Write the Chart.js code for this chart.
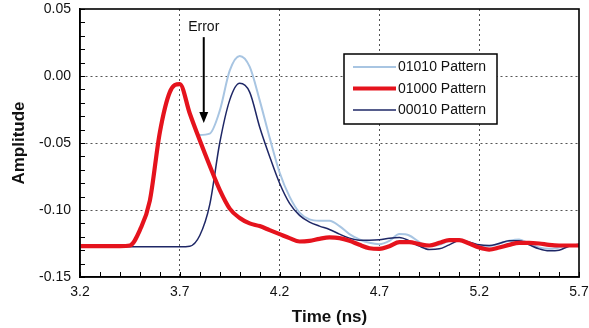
<!DOCTYPE html>
<html>
<head>
<meta charset="utf-8">
<script src="https://cdn.jsdelivr.net/npm/chart.js@4/dist/chart.umd.min.js"></script>
<style>
  html, body { margin: 0; padding: 0; background: #fff; }
  #wrap { width: 589px; height: 328px; }
</style>
</head>
<body>
<div id="wrap"><canvas id="chart"></canvas></div>
<script>
// time axis (ns), shared by all three traces
const times = [
  3.20, 3.25, 3.30, 3.35, 3.40, 3.45, 3.50, 3.55, 3.60, 3.65,
  3.70, 3.75, 3.80, 3.85, 3.90, 3.95, 4.00, 4.05, 4.10, 4.15,
  4.20, 4.25, 4.30, 4.35, 4.40, 4.45, 4.50, 4.55, 4.60, 4.65,
  4.70, 4.75, 4.80, 4.85, 4.90, 4.95, 5.00, 5.05, 5.10, 5.15,
  5.20, 5.25, 5.30, 5.35, 5.40, 5.45, 5.50, 5.55, 5.60, 5.65, 5.70
];

const pattern01010 = [
  -0.127, -0.127, -0.127, -0.127, -0.127, -0.1265, -0.115, -0.093, -0.042, -0.012,
  -0.006, -0.027, -0.044, -0.043, -0.026, 0.004, 0.015, 0.007, -0.018, -0.046,
  -0.072, -0.090, -0.102, -0.107, -0.108, -0.108, -0.112, -0.118, -0.122, -0.1245,
  -0.1255, -0.123, -0.118, -0.119, -0.124, -0.127, -0.126, -0.123, -0.122, -0.124,
  -0.1265, -0.127, -0.125, -0.123, -0.122, -0.125, -0.128, -0.129, -0.128, -0.1265, -0.126
];

const pattern01000 = [
  -0.127, -0.127, -0.127, -0.127, -0.127, -0.1265, -0.115, -0.093, -0.042, -0.012,
  -0.006, -0.028, -0.048, -0.067, -0.085, -0.099, -0.106, -0.110, -0.112, -0.115,
  -0.118, -0.121, -0.1235, -0.123, -0.1215, -0.1205, -0.121, -0.123, -0.126, -0.1285,
  -0.129, -0.127, -0.124, -0.124, -0.1255, -0.1265, -0.1245, -0.1225, -0.1225, -0.125,
  -0.128, -0.1295, -0.128, -0.126, -0.1245, -0.1245, -0.125, -0.126, -0.1265, -0.1265, -0.1265
];

const pattern00010 = [
  -0.1275, -0.1275, -0.1275, -0.1275, -0.1275, -0.1275, -0.1275, -0.1275, -0.1275, -0.1275,
  -0.1275, -0.127, -0.119, -0.096, -0.050, -0.018, -0.0055, -0.012, -0.038, -0.060,
  -0.080, -0.095, -0.104, -0.109, -0.112, -0.1145, -0.118, -0.121, -0.1225, -0.1225,
  -0.1222, -0.121, -0.1205, -0.123, -0.127, -0.1295, -0.129, -0.126, -0.123, -0.124,
  -0.126, -0.1265, -0.125, -0.123, -0.123, -0.126, -0.129, -0.1305, -0.130, -0.127, -0.1255
];

const seriesLabels = ['01010 Pattern', '01000 Pattern', '00010 Pattern'];
const xTickValues = [3.2, 3.7, 4.2, 4.7, 5.2, 5.7];
const yTickValues = [-0.15, -0.10, -0.05, 0.00, 0.05];

// "Error" callout, in data units
const errorText = 'Error';
const errorTime = 3.82;
const errorArrowTop = 0.029;
const errorArrowTip = -0.035;
const errorTextY = 0.0365;

const toPoints = (vals) => vals.map((v, i) => ({ x: times[i], y: v }));

const colors = ['#a8c5e2', '#e5131d', '#1e2766'];
const widths = [2, 4.2, 1.5];

const font = 'Liberation Sans, Arial, Helvetica, sans-serif';

// inward minor ticks + plot frame
const framePlugin = {
  id: 'frame',
  afterDraw(chart) {
    const { ctx, chartArea: a, scales: { x, y } } = chart;
    ctx.save();
    ctx.strokeStyle = '#000';
    ctx.lineWidth = 1;
    ctx.beginPath();
    for (let i = 0; i <= 25; i++) {
      const px = Math.round(x.getPixelForValue(3.2 + i * 0.1)) + 0.5;
      ctx.moveTo(px, a.bottom);
      ctx.lineTo(px, a.bottom - 5);
    }
    for (let i = 0; i <= 20; i++) {
      const py = Math.round(y.getPixelForValue(-0.15 + i * 0.01)) + 0.5;
      ctx.moveTo(a.left, py);
      ctx.lineTo(a.left + 5, py);
    }
    ctx.stroke();
    ctx.lineWidth = 1.6;
    ctx.strokeRect(a.left, a.top, a.right - a.left, a.bottom - a.top);
    ctx.restore();
  }
};

// boxed legend + Error arrow
const notesPlugin = {
  id: 'notes',
  afterDraw(chart) {
    const { ctx, scales: { x, y } } = chart;
    ctx.save();

    // legend box
    const bx = 344, by = 54, bw = 153, bh = 70;
    ctx.fillStyle = '#fff';
    ctx.fillRect(bx, by, bw, bh);
    ctx.strokeStyle = '#000';
    ctx.lineWidth = 1.5;
    ctx.strokeRect(bx, by, bw, bh);
    ctx.font = '14px ' + font;
    ctx.textBaseline = 'middle';
    ctx.textAlign = 'left';
    seriesLabels.forEach((lab, i) => {
      const ry = by + 13 + i * 21.5;
      ctx.strokeStyle = colors[i];
      ctx.lineWidth = widths[i];
      ctx.beginPath();
      ctx.moveTo(bx + 9, ry);
      ctx.lineTo(bx + 52, ry);
      ctx.stroke();
      ctx.fillStyle = '#111';
      ctx.fillText(lab, bx + 54, ry + 0.5);
    });

    // Error arrow
    const ax = x.getPixelForValue(errorTime);
    const top = y.getPixelForValue(errorArrowTop);
    const tip = y.getPixelForValue(errorArrowTip);
    ctx.strokeStyle = '#000';
    ctx.fillStyle = '#000';
    ctx.lineWidth = 2;
    ctx.beginPath();
    ctx.moveTo(ax, top);
    ctx.lineTo(ax, tip - 8);
    ctx.stroke();
    ctx.beginPath();
    ctx.moveTo(ax - 4.5, tip - 11);
    ctx.lineTo(ax + 4.5, tip - 11);
    ctx.lineTo(ax, tip);
    ctx.closePath();
    ctx.fill();
    ctx.font = '14px ' + font;
    ctx.textAlign = 'center';
    ctx.fillStyle = '#111';
    ctx.fillText(errorText, ax, y.getPixelForValue(errorTextY));
    ctx.restore();
  }
};

const edgeGrid = (c) => (c.index === 0 || c.index === c.scale.ticks.length - 1) ? 'rgba(0,0,0,0)' : '#555';

new Chart(document.getElementById('chart'), {
  type: 'line',
  data: {
    datasets: [
      { label: seriesLabels[0], data: toPoints(pattern01010), borderColor: colors[0], borderWidth: widths[0], order: 2 },
      { label: seriesLabels[1], data: toPoints(pattern01000), borderColor: colors[1], borderWidth: widths[1], order: 0 },
      { label: seriesLabels[2], data: toPoints(pattern00010), borderColor: colors[2], borderWidth: widths[2], order: 1 }
    ]
  },
  options: {
    responsive: true,
    maintainAspectRatio: false,
    animation: false,
    events: [],
    layout: { padding: { top: 9, right: 10, left: 0, bottom: 0 } },
    elements: {
      point: { radius: 0 },
      line: { cubicInterpolationMode: 'monotone', fill: false }
    },
    plugins: { legend: { display: false }, tooltip: { enabled: false } },
    scales: {
      x: {
        type: 'linear',
        min: 3.2,
        max: 5.7,
        afterBuildTicks: (s) => { s.ticks = xTickValues.map(v => ({ value: v })); },
        afterFit: (s) => { s.height = 51; s.paddingLeft = 0; s.paddingRight = 0; },
        ticks: {
          color: '#111',
          padding: 7,
          maxRotation: 0,
          font: { family: font, size: 14 },
          callback: (v) => v.toFixed(1)
        },
        grid: { color: edgeGrid, lineWidth: 1, drawTicks: false },
        border: { display: true, color: '#000', width: 1.5, dash: [2, 3] },
        title: {
          display: true,
          text: 'Time (ns)',
          color: '#111',
          padding: { top: 0, bottom: 0 },
          font: { family: font, size: 17, weight: 'bold' }
        }
      },
      y: {
        type: 'linear',
        min: -0.15,
        max: 0.05,
        afterBuildTicks: (s) => { s.ticks = yTickValues.map(v => ({ value: v })); },
        afterFit: (s) => { s.width = 80; s.paddingTop = 0; s.paddingBottom = 0; },
        ticks: {
          color: '#111',
          padding: 9,
          font: { family: font, size: 14 },
          callback: (v) => v.toFixed(2)
        },
        grid: { color: edgeGrid, lineWidth: 1, drawTicks: false },
        border: { display: true, color: '#000', width: 1.5, dash: [2, 3] },
        title: {
          display: true,
          text: 'Amplitude',
          color: '#111',
          padding: { top: 9, bottom: 0 },
          font: { family: font, size: 17, weight: 'bold' }
        }
      }
    }
  },
  plugins: [framePlugin, notesPlugin]
});
</script>
</body>
</html>
